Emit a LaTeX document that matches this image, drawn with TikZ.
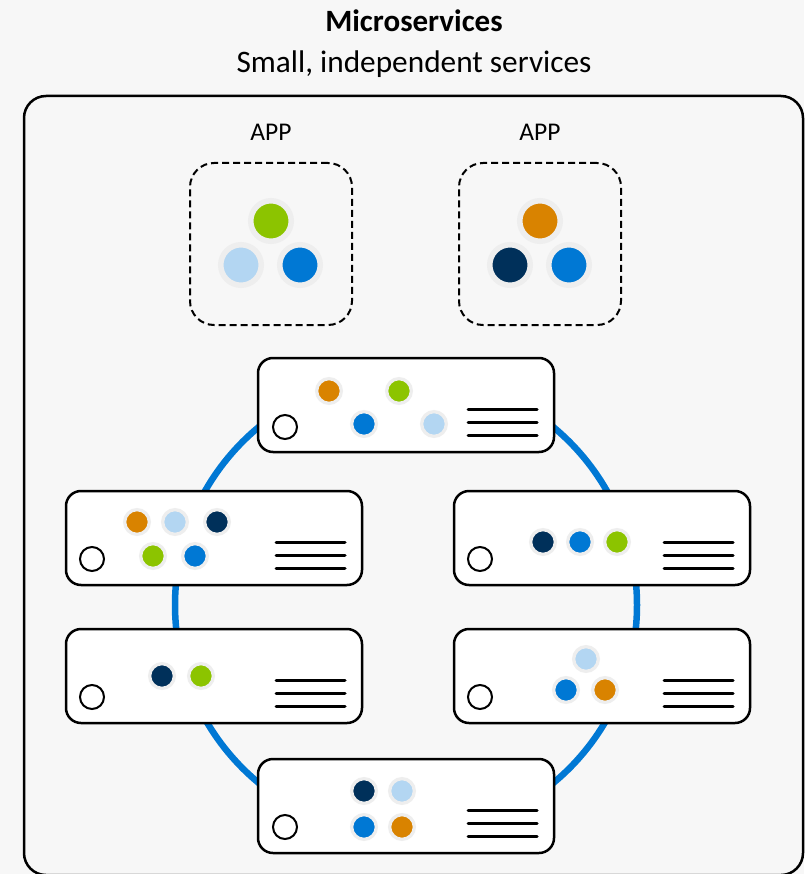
\documentclass[tikz,border=0pt]{standalone}
\usepackage{fontspec}
\setmainfont{Carlito}
\usepackage{tikz}

\definecolor{bgGrey}{HTML}{F7F7F7}
\definecolor{halo}{HTML}{EEEEEE}
\definecolor{svcGreen}{HTML}{8CC400}
\definecolor{svcBlue}{HTML}{0078D4}
\definecolor{svcLight}{HTML}{B3D6F2}
\definecolor{svcNavy}{HTML}{00305A}
\definecolor{svcOrange}{HTML}{D98300}

\begin{document}
\begin{tikzpicture}[x=1pt,y=-1pt]
\tikzstyle{srv}=[draw,fill=white,rounded corners=15pt,line width=2.5pt,minimum width=296pt,minimum height=94pt,inner sep=0pt]
\tikzstyle{led}=[circle,draw,line width=2pt,minimum size=24pt,inner sep=0pt]
\tikzstyle{bar}=[line width=3pt,line cap=round]
\tikzstyle{svc}=[circle,draw=halo,line width=3.3pt,minimum size=24.7pt,inner sep=0pt]
\tikzstyle{bigsvc}=[circle,draw=halo,line width=5.5pt,minimum size=40.5pt,inner sep=0pt]
\tikzstyle{appbox}=[draw,line width=2pt,dash pattern=on 7pt off 4pt,rounded corners=24pt,minimum size=162pt,inner sep=0pt]
\tikzstyle{label}=[anchor=base,inner sep=0pt]

\fill[bgGrey] (0,0) rectangle (804,874);
\useasboundingbox (0,0) rectangle (804,874);

% heading
\node[label,font=\bfseries\fontsize{31}{36}\selectfont] (title) at (414,32) {Microservices};
\node[label,font=\fontsize{31.3}{36}\selectfont] (subtitle) at (414,73) {Small, independent services};

% outer frame
\draw[line width=2.5pt,rounded corners=22pt] (24,96) rectangle (803,875);

% apps
\node[label,font=\fontsize{25.5}{30}\selectfont] (appAtext) at (271,141) {APP};
\node[label,font=\fontsize{25.5}{30}\selectfont] (appBtext) at (540,141) {APP};
\node[appbox] (appA) at (271,244) {};
\node[appbox] (appB) at (540,244) {};
\node[bigsvc,fill=svcGreen] (appA1) at (271,221) {};
\node[bigsvc,fill=svcLight] (appA2) at (241,265) {};
\node[bigsvc,fill=svcBlue] (appA3) at (300,265) {};
\node[bigsvc,fill=svcOrange] (appB1) at (540,221) {};
\node[bigsvc,fill=svcNavy] (appB2) at (510,265) {};
\node[bigsvc,fill=svcBlue] (appB3) at (569,265) {};

% ring
\draw[svcBlue,line width=6.5pt] (406,605) circle (231pt);

% top server
\begin{scope}[shift={(258,358)}]
    \node[srv] (top) at (148,47) {};
    \node[led] (topled) at (27,69) {};
    \draw[bar] (210,51) -- (279,51);
    \draw[bar] (210,64) -- (279,64);
    \draw[bar] (210,77) -- (279,77);
    \node[svc,fill=svcOrange] (top1) at (71,33) {};
    \node[svc,fill=svcGreen] (top2) at (141,33) {};
    \node[svc,fill=svcBlue] (top3) at (106,66) {};
    \node[svc,fill=svcLight] (top4) at (176,66) {};
\end{scope}

% upper left server
\begin{scope}[shift={(66,491)}]
    \node[srv] (ul) at (148,47) {};
    \node[led] (ulled) at (26,68) {};
    \draw[bar] (210,51) -- (279,51);
    \draw[bar] (210,64) -- (279,64);
    \draw[bar] (210,77) -- (279,77);
    \node[svc,fill=svcOrange] (ul1) at (71,31) {};
    \node[svc,fill=svcLight] (ul2) at (109,31) {};
    \node[svc,fill=svcNavy] (ul3) at (151,31) {};
    \node[svc,fill=svcGreen] (ul4) at (87,65) {};
    \node[svc,fill=svcBlue] (ul5) at (129,65) {};
\end{scope}

% upper right server
\begin{scope}[shift={(454,491)}]
    \node[srv] (ur) at (148,47) {};
    \node[led] (urled) at (26,68) {};
    \draw[bar] (210,51) -- (279,51);
    \draw[bar] (210,64) -- (279,64);
    \draw[bar] (210,77) -- (279,77);
    \node[svc,fill=svcNavy] (ur1) at (89,51) {};
    \node[svc,fill=svcBlue] (ur2) at (126,51) {};
    \node[svc,fill=svcGreen] (ur3) at (163,51) {};
\end{scope}

% lower left server
\begin{scope}[shift={(66,629)}]
    \node[srv] (ll) at (148,47) {};
    \node[led] (llled) at (26,68) {};
    \draw[bar] (210,51) -- (279,51);
    \draw[bar] (210,64) -- (279,64);
    \draw[bar] (210,77) -- (279,77);
    \node[svc,fill=svcNavy] (ll1) at (96,47) {};
    \node[svc,fill=svcGreen] (ll2) at (135,47) {};
\end{scope}

% lower right server
\begin{scope}[shift={(454,629)}]
    \node[srv] (lr) at (148,47) {};
    \node[led] (lrled) at (26,68) {};
    \draw[bar] (210,51) -- (279,51);
    \draw[bar] (210,64) -- (279,64);
    \draw[bar] (210,77) -- (279,77);
    \node[svc,fill=svcLight] (lr1) at (132,30) {};
    \node[svc,fill=svcBlue] (lr2) at (112,61) {};
    \node[svc,fill=svcOrange] (lr3) at (151,61) {};
\end{scope}

% bottom server
\begin{scope}[shift={(258,759)}]
    \node[srv] (bot) at (148,47) {};
    \node[led] (botled) at (27,68) {};
    \draw[bar] (210,51) -- (279,51);
    \draw[bar] (210,64) -- (279,64);
    \draw[bar] (210,77) -- (279,77);
    \node[svc,fill=svcNavy] (bot1) at (106,32) {};
    \node[svc,fill=svcLight] (bot2) at (144,32) {};
    \node[svc,fill=svcBlue] (bot3) at (106,68) {};
    \node[svc,fill=svcOrange] (bot4) at (144,68) {};
\end{scope}
\end{tikzpicture}
\end{document}
